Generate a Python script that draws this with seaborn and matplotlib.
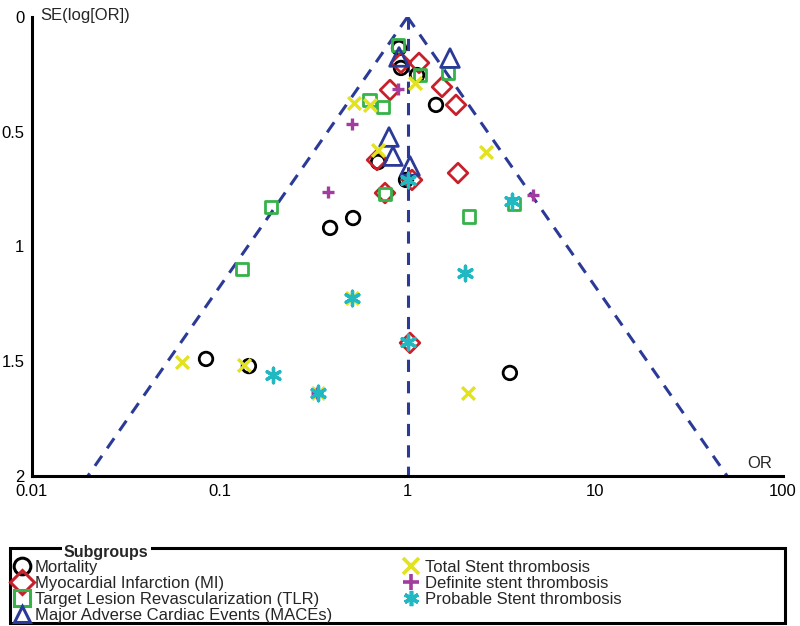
import numpy as np
import pandas as pd
import matplotlib

matplotlib.use("Agg")
import matplotlib.pyplot as plt
import matplotlib.patches as mpatches
import seaborn as sns

# odds ratio / standard error pairs
mort_or = [0.901, 0.923, 1.124, 1.418, 0.697, 0.982, 0.513, 0.387, 0.0845, 0.143, 3.51]
mort_se = [0.135, 0.222, 0.253, 0.383, 0.632, 0.710, 0.876, 0.919, 1.490, 1.521, 1.551]

mi_or = [0.923, 1.152, 0.807, 1.527, 1.813, 0.688, 1.057, 0.759, 1.858, 1.031]
mi_se = [0.200, 0.200, 0.318, 0.305, 0.383, 0.623, 0.710, 0.767, 0.680, 1.420]

tlr_or = [0.890, 1.166, 1.643, 0.630, 0.740, 0.759, 0.1875, 0.1314, 2.127, 3.69]
tlr_se = [0.122, 0.253, 0.244, 0.362, 0.392, 0.771, 0.828, 1.098, 0.871, 0.815]

mace_or = [0.901, 1.684, 0.797, 0.837, 1.031]
mace_se = [0.174, 0.179, 0.523, 0.606, 0.649]

tst_or = [1.096, 0.519, 0.630, 0.697, 2.62, 0.506, 0.063, 0.1346, 0.334, 2.10]
tst_se = [0.288, 0.375, 0.383, 0.580, 0.588, 1.224, 1.503, 1.516, 1.638, 1.638]

dst_or = [0.890, 0.506, 0.377, 4.66, 0.330]
dst_se = [0.314, 0.466, 0.763, 0.776, 1.638]

pst_or = [1.006, 3.60, 2.025, 0.506, 0.192, 1.006, 0.334]
pst_se = [0.710, 0.802, 1.115, 1.224, 1.560, 1.416, 1.638]

SUBGROUPS = [
    ("Mortality", mort_or, mort_se, "o", "#000000", True),
    ("Myocardial Infarction (MI)", mi_or, mi_se, "D", "#c8202a", True),
    ("Target Lesion Revascularization (TLR)", tlr_or, tlr_se, "s", "#36b24a", True),
    ("Major Adverse Cardiac Events (MACEs)", mace_or, mace_se, "^", "#2b3a97", True),
    ("Total Stent thrombosis", tst_or, tst_se, "x", "#e2e21e", False),
    ("Definite stent thrombosis", dst_or, dst_se, "+", "#a23c9e", False),
    ("Probable Stent thrombosis", pst_or, pst_se, (6, 2, 0), "#22b8c2", False),
]

MARKER_SIZE = {"o": 95, "D": 100, "s": 85, "^": 180, "x": 85, "+": 85}

x_ticks = [0.01, 0.1, 1, 10, 100]
x_tick_labels = ["0.01", "0.1", "1", "10", "100"]
y_ticks = [0, 0.5, 1, 1.5, 2]
y_tick_labels = ["0", "0.5", "1", "1.5", "2"]

sns.set_style("white")
plt.rcParams["font.family"] = ["Liberation Sans", "DejaVu Sans"]

fig = plt.figure(figsize=(8, 6.26), dpi=100)
ax = fig.add_axes([32 / 800, 1 - 476 / 626, 751 / 800, 459 / 626])

# 95% pseudo-confidence funnel around OR = 1
se_grid = np.array([0.0, 2.0])
funnel_color = "#2b3a97"
ax.plot(np.exp(-1.96 * se_grid), se_grid, ls=(0, (4, 3)), lw=2.2, color=funnel_color, zorder=1)
ax.plot(np.exp(1.96 * se_grid), se_grid, ls=(0, (4, 3)), lw=2.2, color=funnel_color, zorder=1)
ax.plot([1, 1], se_grid, ls=(0, (4, 3)), lw=2.2, color=funnel_color, zorder=1)

handles = []
for label, ors, ses, marker, color, hollow in SUBGROUPS:
    df = pd.DataFrame({"OR": ors, "SE": ses})
    size = MARKER_SIZE.get(marker, 110)
    if hollow:
        sns.scatterplot(data=df, x="OR", y="SE", marker=marker, s=size,
                        facecolors="none", edgecolors=color, linewidths=2.0,
                        ax=ax, zorder=3)
        h = plt.Line2D([], [], ls="none", marker=marker, markersize=12,
                       markerfacecolor="none", markeredgecolor=color, markeredgewidth=2.2)
    else:
        sns.scatterplot(data=df, x="OR", y="SE", marker=marker, s=size,
                        color=color, linewidths=2.4, ax=ax, zorder=3)
        h = plt.Line2D([], [], ls="none", marker=marker, markersize=11,
                       color=color, markeredgewidth=2.6)
    handles.append((h, label))

ax.set_xscale("log")
ax.set_xlim(0.01, 100)
ax.set_ylim(2, 0)
ax.set_xticks(x_ticks)
ax.set_xticklabels(x_tick_labels)
ax.set_yticks(y_ticks)
ax.set_yticklabels(y_tick_labels)
ax.minorticks_off()
ax.set_xlabel("")
ax.set_ylabel("")
for side in ["top", "right"]:
    ax.spines[side].set_visible(False)
for side in ["left", "bottom"]:
    ax.spines[side].set_linewidth(2.2)
    ax.spines[side].set_color("black")
ax.tick_params(axis="both", direction="inout", length=9, width=2.2, labelsize=12,
               colors="black", pad=1)

fig.text(40 / 800, 1 - 20 / 626, "SE(log[OR])", fontsize=12, ha="left", va="baseline")
fig.text(760 / 800, 1 - 468 / 626, "OR", fontsize=12, ha="center", va="baseline")

# legend group box
box = mpatches.Rectangle((10 / 800, 3 / 626), 775 / 800, 75 / 626, transform=fig.transFigure,
                         fill=False, edgecolor="black", lw=2.2)
fig.patches.append(box)
fig.text(64 / 800, 1 - 552 / 626, "Subgroups", fontsize=11.5, fontweight="bold",
         ha="left", va="center",
         bbox=dict(facecolor="white", edgecolor="none", pad=1.5))

fig.legend([h for h, _ in handles], [l for _, l in handles], ncol=2, loc="upper left",
           bbox_to_anchor=(14 / 800, 1 - 560 / 626), frameon=False, fontsize=12,
           handlelength=0.9, handletextpad=0.35, labelspacing=0.06, columnspacing=4.3,
           borderaxespad=0, borderpad=0)

fig.savefig("out.png", dpi=100)
